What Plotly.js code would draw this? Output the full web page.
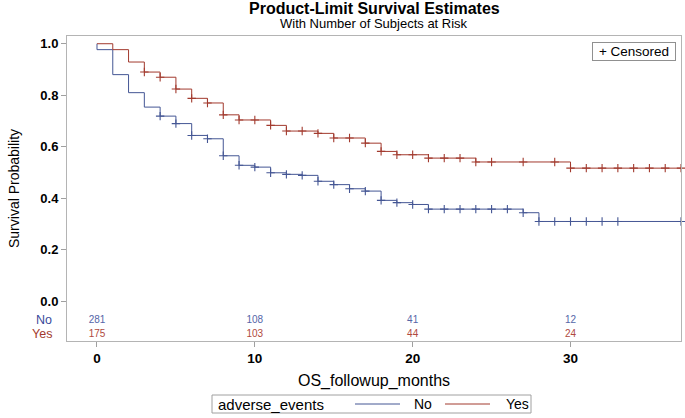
<!DOCTYPE html>
<html><head><meta charset="utf-8">
<script src="https://cdn.plot.ly/plotly-3.0.1.min.js"></script>
<style>body{margin:0;background:#fff}#chart{width:685px;height:418px}</style>
</head><body><div id="chart"></div>
<script>
// Kaplan-Meier step data (months, survival probability)
const noTimes   = [0, 0, 1, 2, 3, 4, 5, 6, 7, 8, 9, 10, 11, 12, 13, 14, 15, 16, 17, 18, 19, 20, 21, 27, 28, 37];
const noSurv    = [1.0, 0.977, 0.880, 0.810, 0.754, 0.719, 0.690, 0.644, 0.631, 0.565, 0.528, 0.521, 0.499, 0.493, 0.489, 0.466, 0.453, 0.437, 0.428, 0.392, 0.383, 0.376, 0.358, 0.344, 0.310, 0.310];
const noCensor  = [4, 5, 6, 7, 8, 9, 10, 11, 12, 13, 14, 15, 16, 17, 18, 19, 20, 21, 22, 23, 24, 25, 26, 27, 28, 29, 30, 31, 32, 33, 37];

const yesTimes  = [0, 1, 2, 3, 4, 5, 6, 7, 8, 9, 11, 12, 14, 15, 17, 18, 19, 21, 24, 30, 37];
const yesSurv   = [1.0, 0.977, 0.929, 0.890, 0.870, 0.824, 0.788, 0.770, 0.724, 0.704, 0.683, 0.661, 0.652, 0.634, 0.614, 0.582, 0.569, 0.556, 0.541, 0.517, 0.517];
const yesCensor = [3, 4, 5, 6, 7, 8, 9, 10, 11, 12, 13, 14, 15, 16, 17, 18, 19, 20, 21, 22, 23, 24, 25, 27, 29, 30, 31, 32, 33, 34, 35, 36, 37];

// Number at risk table
const riskTimes = [0, 10, 20, 30];
const riskNo    = [281, 108, 41, 12];
const riskYes   = [175, 103, 44, 24];

const groupNames = ['No', 'Yes'];
const legendTitle = 'adverse_events';
const blue = '#445694', red = '#A23A2E';

function stepValue(times, surv, t) {
  let v = surv[0];
  for (let i = 0; i < times.length; i++) { if (times[i] <= t) v = surv[i]; }
  return v;
}

const F = 'Liberation Sans, Arial, sans-serif';

const traces = [
  {x: noTimes, y: noSurv, mode: 'lines', line: {shape: 'hv', color: blue, width: 1}, name: groupNames[0], showlegend: false},
  {x: yesTimes, y: yesSurv, mode: 'lines', line: {shape: 'hv', color: red, width: 1}, name: groupNames[1], showlegend: false},
  {x: noCensor, y: noCensor.map(t => stepValue(noTimes, noSurv, t)), mode: 'markers', showlegend: false,
   marker: {symbol: 'cross-thin', size: 6, line: {color: blue, width: 1.1}}, cliponaxis: false},
  {x: yesCensor, y: yesCensor.map(t => stepValue(yesTimes, yesSurv, t)), mode: 'markers', showlegend: false,
   marker: {symbol: 'cross-thin', size: 6, line: {color: red, width: 1.1}}, cliponaxis: false},
  {x: riskTimes, y: riskTimes.map(() => -0.074), mode: 'text', text: riskNo.map(String), showlegend: false,
   textfont: {family: F, size: 10, color: '#5566a8'}, cliponaxis: false},
  {x: riskTimes, y: riskTimes.map(() => -0.128), mode: 'text', text: riskYes.map(String), showlegend: false,
   textfont: {family: F, size: 10, color: '#b04a3e'}, cliponaxis: false}
];

// paper-coordinate helpers for the hand-built legend (plot area 67..681 x, 36..341 y)
const px = v => (v - 67) / 614;
const py = v => (341 - v) / 305;

const layout = {
  width: 685, height: 418,
  margin: {l: 67, r: 4, t: 36, b: 77, autoexpand: false},
  paper_bgcolor: '#fff', plot_bgcolor: '#fff',
  font: {family: F, color: '#000'},
  showlegend: false,
  xaxis: {
    range: [-1.9, 37.0], tickvals: riskTimes, ticks: 'outside', ticklen: 5, tickcolor: '#a0a0a0',
    showgrid: false, zeroline: false, showline: true, mirror: true, linecolor: '#b4b4b4', linewidth: 1,
    tickfont: {size: 13.5, weight: 'bold'},
    title: {text: 'OS_followup_months', font: {size: 16}, standoff: 9}
  },
  yaxis: {
    range: [-0.154, 1.03], tickvals: [0, 0.2, 0.4, 0.6, 0.8, 1.0], ticktext: ['0.0','0.2','0.4','0.6','0.8','1.0'],
    ticks: 'outside', ticklen: 5, tickcolor: '#a0a0a0',
    showgrid: false, zeroline: false, showline: true, mirror: true, linecolor: '#b4b4b4', linewidth: 1,
    tickfont: {size: 13, weight: 'bold'},
    title: {text: 'Survival Probability', font: {size: 14, family: 'Liberation Sans Narrow, Liberation Sans, sans-serif'}, standoff: 17}
  },
  shapes: [
    {type: 'rect', xref: 'paper', yref: 'paper', x0: px(212), x1: px(531), y0: py(395), y1: py(413), line: {color: '#a0a0a0', width: 1}, fillcolor: '#fff'},
    {type: 'line', xref: 'paper', yref: 'paper', x0: px(355), x1: px(400), y0: py(404), y1: py(404), line: {color: blue, width: 1}},
    {type: 'line', xref: 'paper', yref: 'paper', x0: px(445), x1: px(490), y0: py(404), y1: py(404), line: {color: red, width: 1}}
  ],
  annotations: [
    {text: '<b>Product-Limit Survival Estimates</b>', xref: 'paper', yref: 'paper', x: 0.5, y: py(8), xanchor: 'center', yanchor: 'middle', showarrow: false, font: {size: 16}},
    {text: 'With Number of Subjects at Risk', xref: 'paper', yref: 'paper', x: 0.5, y: py(23), xanchor: 'center', yanchor: 'middle', showarrow: false, font: {size: 13}},
    {text: '+ Censored', xref: 'paper', yref: 'paper', x: px(676), y: py(42), xanchor: 'right', yanchor: 'top', showarrow: false,
     font: {size: 13.5}, bordercolor: '#909090', borderwidth: 1, borderpad: 1, bgcolor: '#fff', width: 80, align: 'center'},
    {text: groupNames[0], xref: 'paper', yref: 'y', x: 0, y: -0.074, xanchor: 'right', xshift: -14, showarrow: false,
     font: {size: 12.5, color: '#3a4a9a'}, borderpad: 0},
    {text: groupNames[1], xref: 'paper', yref: 'y', x: 0, y: -0.128, xanchor: 'right', xshift: -14, showarrow: false,
     font: {size: 12.5, color: '#a23a2e'}, borderpad: 0},
    {text: legendTitle, xref: 'paper', yref: 'paper', x: px(216), y: py(404), xanchor: 'left', yanchor: 'middle', showarrow: false, font: {size: 15}},
    {text: groupNames[0], xref: 'paper', yref: 'paper', x: px(412), y: py(404), xanchor: 'left', yanchor: 'middle', showarrow: false, font: {size: 14}},
    {text: groupNames[1], xref: 'paper', yref: 'paper', x: px(504), y: py(404), xanchor: 'left', yanchor: 'middle', showarrow: false, font: {size: 14}}
  ]
};

Plotly.newPlot('chart', traces, layout, {displayModeBar: false, staticPlot: true});
</script></body></html>
